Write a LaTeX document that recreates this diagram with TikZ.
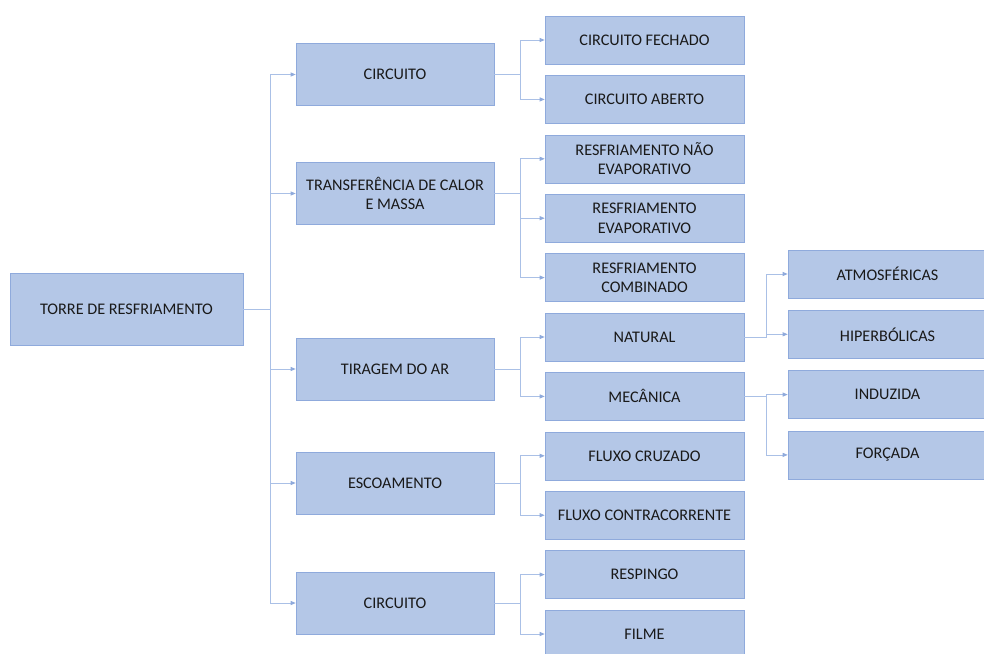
\documentclass[tikz,border=0pt]{standalone}
\usepackage{fontspec}
\setmainfont{Carlito}
\usetikzlibrary{arrows.meta, positioning}
\definecolor{boxfill}{RGB}{180,199,231}
\definecolor{boxline}{RGB}{143,170,220}
\definecolor{linkline}{RGB}{170,192,230}
\definecolor{boxtext}{RGB}{25,25,25}

\begin{document}
\begin{tikzpicture}[x=1pt, y=-1pt, node distance=10.8pt]
    \tikzstyle{treebox}=[draw=boxline, fill=boxfill, text=boxtext, line width=0.6pt, align=center, inner sep=0pt, font=\fontsize{16.2}{19.5}\selectfont]
    \tikzstyle{rootbox}=[treebox, minimum width=233pt, minimum height=72pt]
    \tikzstyle{groupbox}=[treebox, minimum width=198pt, minimum height=62pt]
    \tikzstyle{leafbox}=[treebox, minimum width=199pt, minimum height=48pt]
    \tikzstyle{link}=[draw=linkline, line width=0.8pt, -{Triangle[length=5pt, width=4pt, color=boxline]}]

    \useasboundingbox (0,0) rectangle (984,653);
    \clip (0,0) rectangle (984,653);

    \node[rootbox] (root) at (126.5,309) {TORRE DE RESFRIAMENTO};

    \node[groupbox] (circa) at (395,74.5) {CIRCUITO};
    \node[groupbox] (transf) at (395,193.5) {TRANSFERÊNCIA DE CALOR\\E MASSA};
    \node[groupbox] (tirag) at (395,369) {TIRAGEM DO AR};
    \node[groupbox] (escoam) at (395,483) {ESCOAMENTO};
    \node[groupbox] (circb) at (395,603) {CIRCUITO};

    \node[leafbox] (fechado) at (644.5,40) {CIRCUITO FECHADO};
    \node[leafbox, below=of fechado] (aberto) {CIRCUITO ABERTO};
    \node[leafbox, below=of aberto] (naoevap) {RESFRIAMENTO NÃO\\EVAPORATIVO};
    \node[leafbox, below=of naoevap] (evap) {RESFRIAMENTO\\EVAPORATIVO};
    \node[leafbox, below=of evap] (combin) {RESFRIAMENTO\\COMBINADO};
    \node[leafbox, below=of combin] (natural) {NATURAL};
    \node[leafbox, below=of natural] (mecan) {MECÂNICA};
    \node[leafbox, below=of mecan] (cruzado) {FLUXO CRUZADO};
    \node[leafbox, below=of cruzado] (contra) {FLUXO CONTRACORRENTE};
    \node[leafbox, below=of contra] (respingo) {RESPINGO};
    \node[leafbox, below=of respingo] (filme) {FILME};

    \node[leafbox] (atmos) at (887.5,274) {ATMOSFÉRICAS};
    \node[leafbox, below=11.7pt of atmos] (hiperb) {HIPERBÓLICAS};
    \node[leafbox, below=11.7pt of hiperb] (induz) {INDUZIDA};
    \node[leafbox, below=11.7pt of induz] (forcada) {FORÇADA};

    % root to groups
    \foreach \c in {circa, transf, tirag, escoam, circb}
        \draw[link] (root.east) -- ++(27,0) |- (\c.west);

    % groups to leaves
    \foreach \c in {fechado, aberto}
        \draw[link] (circa.east) -- ++(26,0) |- (\c.west);
    \foreach \c in {naoevap, evap, combin}
        \draw[link] (transf.east) -- ++(26,0) |- (\c.west);
    \foreach \c in {natural, mecan}
        \draw[link] (tirag.east) -- ++(26,0) |- (\c.west);
    \foreach \c in {cruzado, contra}
        \draw[link] (escoam.east) -- ++(26,0) |- (\c.west);
    \foreach \c in {respingo, filme}
        \draw[link] (circb.east) -- ++(26,0) |- (\c.west);

    % tiragem types
    \foreach \c in {atmos, hiperb}
        \draw[link] (natural.east) -- ++(22,0) |- (\c.west);
    \foreach \c in {induz, forcada}
        \draw[link] (mecan.east) -- ++(22,0) |- (\c.west);
\end{tikzpicture}
\end{document}
